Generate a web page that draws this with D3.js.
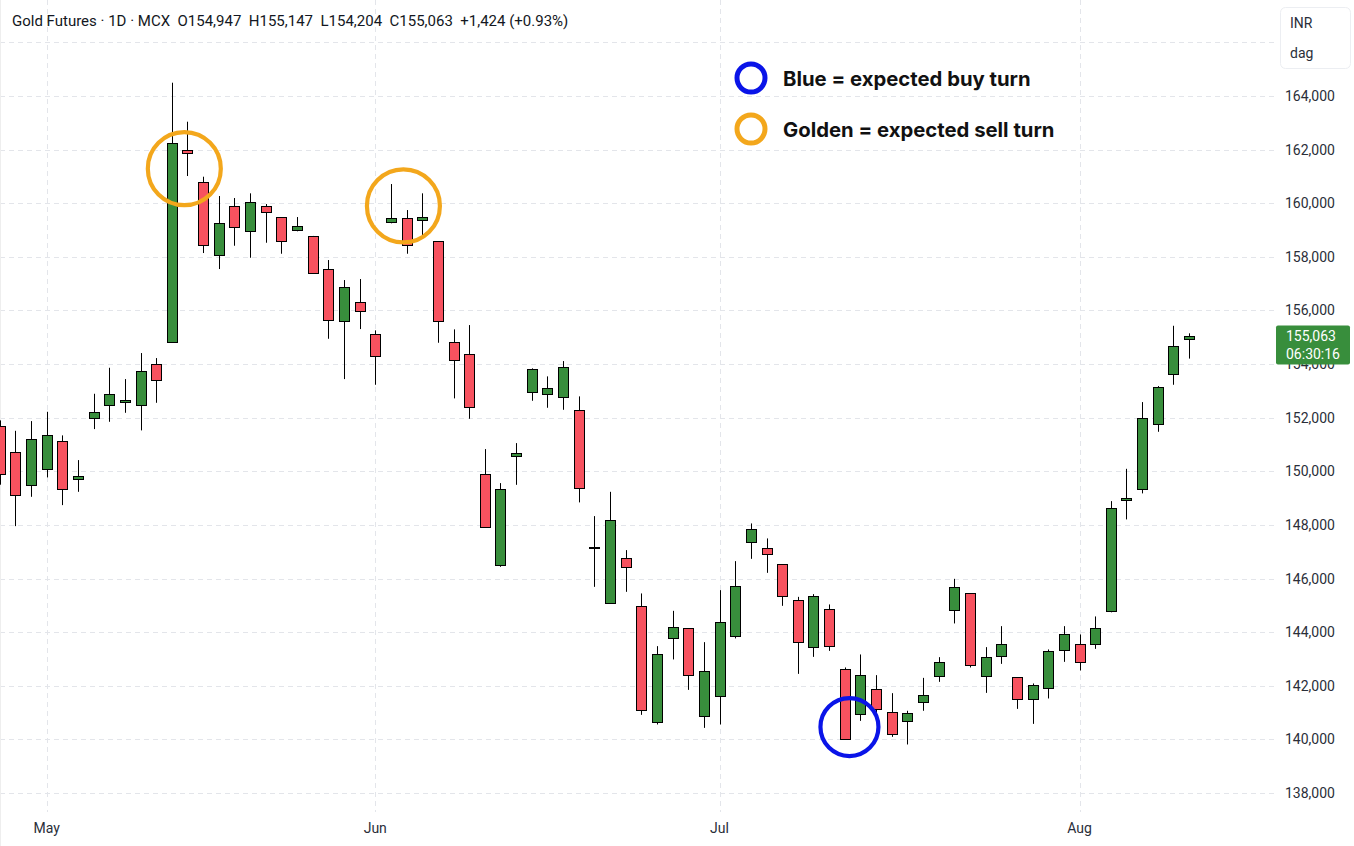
<!DOCTYPE html>
<html>
<head>
<meta charset="utf-8">
<script src="https://cdn.jsdelivr.net/npm/d3@7"></script>
<style>
body { margin: 0; background: #fff; }
svg { display: block; font-family: Roboto, "Liberation Sans", sans-serif; }
</style>
</head>
<body>
<script>
var w = 1354, h = 846;

// daily OHLC (index 0 = partly hidden candle on the left edge)
var opens  = [151700,150705,149474,150071,151116,149720,151974,152459,152571,152459,
              153989,154810,161974,160780,158056,159884,158952,159884,159474,158989,
              158765,157534,155593,156302,155108,159287,159437,159362,158578,154810,
              154362,149884,146474,150556,152944,152869,152758,152273,147183,145071,
              146750,144970,140631,143765,144138,140855,141601,143840,147347,147123,
              146526,145183,143429,144847,142608,140929,141862,141004,140668,141377,
              142332,144810,145444,142332,143093,142310,141489,141899,143317,143541,
              143541,144758,148914,149325,151750,153616,154947];
var highs  = [151900,151511,151873,152220,151340,150418,152892,153862,153440,154411,
              154224,164496,163041,160989,160269,160194,160369,159970,159480,159485,
              158780,157881,157134,157172,155258,160716,159746,160369,158590,155295,
              155455,150829,149560,151052,153840,153541,154112,152795,148329,149235,
              147060,145444,143478,144795,144150,143627,145567,146649,148056,147496,
              146540,145317,145418,145034,142683,143168,142396,141724,141067,142295,
              143067,145989,145460,143441,144224,142320,142086,143355,144224,143914,
              144586,148888,150093,152582,153179,155429,155147];
var lows   = [149500,147955,149049,149772,148739,149235,151575,151847,152183,151526,
              152556,154800,161015,158142,157545,158414,157966,158526,158116,158952,
              157370,154944,153440,155306,153228,159250,158116,158813,154795,152720,
              151959,147900,146437,149496,152631,152370,152295,148840,145690,145060,
              145504,140915,140556,142982,141847,140429,140556,143766,146735,146213,
              144982,142444,143078,143302,139990,140691,140866,140094,139810,141067,
              142146,144325,142683,141735,142817,141138,140579,141526,142892,142571,
              143377,144740,148205,149176,151474,153228,154204];
var closes = [149896,149101,151190,151340,149325,149821,152198,152881,152646,153728,
              153392,162235,161873,158429,159250,159101,160034,159660,158578,159138,
              157384,155631,156862,155967,154287,159437,158429,159474,155593,154138,
              152384,147907,149325,150668,153802,153093,153877,149362,147183,148168,
              146414,141090,143179,144176,142384,142534,144362,145705,147832,146899,
              145332,143616,145332,143467,139996,142384,141116,140194,140967,141638,
              142870,145668,142758,143056,143541,141489,142012,143280,143914,142870,
              144138,148616,148989,151985,153131,154661,155063];

var monthIdx    = [3, 24, 46, 69];
var monthLabels = ["May", "Jun", "Jul", "Aug"];
var gridTicks   = d3.range(138000, 166001, 2000);
var priceTicks  = d3.range(138000, 164001, 2000);

// turning points marked on the chart
var turnIdx   = [11.8, 25.8, 54.3];
var turnPrice = [161290, 159900, 140460];
var turnKind  = ["sell", "sell", "buy"];

var legendKinds  = ["buy", "sell"];
var legendLabels = ["Blue = expected buy turn", "Golden = expected sell turn"];

var headerText = "Gold Futures \u00b7 1D \u00b7 MCX  O154,947  H155,147  L154,204  C155,063  +1,424 (+0.93%)";
var lastTime = "06:30:16";

var green = "#388e3c", red = "#f7525f";
var turnColor = { buy: "#0a14e8", sell: "#f3a71c" };

var paneW = 1275, paneH = 812;

var svg = d3.select("body").append("svg")
  .attr("width", w)
  .attr("height", h)

var x = d3.scaleLinear().domain([0, 76]).range([-0.35, 1189.05]);
var y = d3.scaleLinear().domain([138000, 164000]).range([793, 96]);

svg.append("clipPath").attr("id", "pane")
  .append("rect").attr("x", 0).attr("y", 0).attr("width", paneW).attr("height", paneH)

// grid
var grid = svg.append("g").attr("clip-path", "url(#pane)")
grid.selectAll("line.h")
  .data(gridTicks)
  .enter().append("line")
  .attr("class", "h")
  .attr("x1", 0).attr("x2", paneW)
  .attr("y1", function(d) { return Math.round(y(d)) + 0.5; })
  .attr("y2", function(d) { return Math.round(y(d)) + 0.5; })
  .style("stroke", "#e3e5ea")
  .style("stroke-dasharray", "5,4")
grid.selectAll("line.v")
  .data(monthIdx)
  .enter().append("line")
  .attr("class", "v")
  .attr("x1", function(d) { return Math.round(x(d)) + 0.5; })
  .attr("x2", function(d) { return Math.round(x(d)) + 0.5; })
  .attr("y1", 0).attr("y2", paneH)
  .style("stroke", "#e3e5ea")
  .style("stroke-dasharray", "5,4")

svg.append("line")
  .attr("x1", 0.5).attr("x2", 0.5).attr("y1", 0).attr("y2", h)
  .style("stroke", "#eeeeee")

// candles
var candles = svg.append("g").attr("clip-path", "url(#pane)")
  .selectAll("g")
  .data(closes.map(function(c, i) { return { i: i, o: opens[i], hi: highs[i], lo: lows[i], c: c }; }))
  .enter().append("g")

candles.append("line")
  .attr("x1", function(d) { return Math.round(x(d.i)) + 0.5; })
  .attr("x2", function(d) { return Math.round(x(d.i)) + 0.5; })
  .attr("y1", function(d) { return y(d.hi); })
  .attr("y2", function(d) { return y(d.lo); })
  .style("stroke", "#000")
  .style("stroke-width", 1)

candles.append("rect")
  .attr("x", function(d) { return Math.round(x(d.i)) - 4.5; })
  .attr("width", 10)
  .attr("y", function(d) { return Math.round(y(Math.max(d.o, d.c))) + 0.5; })
  .attr("height", function(d) { return Math.max(1, Math.round(Math.abs(y(d.o) - y(d.c)))); })
  .style("fill", function(d) { return d.c >= d.o ? green : red; })
  .style("stroke", "#000")
  .style("stroke-width", 1)

// turn markers
svg.append("g").selectAll("circle")
  .data(turnIdx)
  .enter().append("circle")
  .attr("cx", function(d) { return x(d); })
  .attr("cy", function(d, i) { return y(turnPrice[i]); })
  .attr("r", function(d, i) { return turnKind[i] == "buy" ? 29 : 36.5; })
  .style("fill", "none")
  .style("stroke", function(d, i) { return turnColor[turnKind[i]]; })
  .style("stroke-width", 4.2)

// legend
var legend = svg.append("g").attr("transform", "translate(751,78)")
var items = legend.selectAll("g")
  .data(legendLabels)
  .enter().append("g")
  .attr("transform", function(d, i) { return "translate(0," + (i * 51) + ")"; })
items.append("circle")
  .attr("r", 14)
  .style("fill", "none")
  .style("stroke", function(d, i) { return turnColor[legendKinds[i]]; })
  .style("stroke-width", 5)
items.append("text")
  .attr("x", 32)
  .attr("y", 7.5)
  .text(function(d) { return d; })
  .style("font-family", "Inter, sans-serif")
  .style("font-weight", 700)
  .style("font-size", "20.3px")
  .style("fill", "#111")

// price scale
svg.append("g").selectAll("text")
  .data(priceTicks)
  .enter().append("text")
  .attr("x", 1285)
  .attr("y", function(d) { return y(d) + 5; })
  .text(function(d) { return d3.format(",")(d); })
  .style("font-size", "14px")
  .style("fill", "#2a2e39")

// time scale
svg.append("g").selectAll("text")
  .data(monthIdx)
  .enter().append("text")
  .attr("x", function(d) { return x(d); })
  .attr("y", 833)
  .attr("text-anchor", "middle")
  .text(function(d, i) { return monthLabels[i]; })
  .style("font-size", "14px")
  .style("fill", "#2a2e39")

// last price label
var last = closes.length - 1;
var lp = svg.append("g").attr("transform", "translate(1276," + (y(closes[last]) - 10) + ")")
lp.append("rect")
  .attr("width", 74).attr("height", 39).attr("rx", 2)
  .style("fill", green)
lp.append("text").attr("x", 10).attr("y", 15).text(d3.format(",")(closes[last]))
  .style("font-size", "14px").style("fill", "#fff")
lp.append("text").attr("x", 10).attr("y", 33).text(lastTime)
  .style("font-size", "14px").style("fill", "#fff")

// currency / unit box
var unit = svg.append("g").attr("transform", "translate(1280,7)")
unit.append("rect")
  .attr("x", 0.5).attr("y", 0.5).attr("width", 70).attr("height", 61).attr("rx", 5)
  .style("fill", "#fff")
  .style("stroke", "#eceef2")
unit.append("text").attr("x", 10).attr("y", 21).text("INR")
  .style("font-size", "14px").style("fill", "#2a2e39")
unit.append("text").attr("x", 10).attr("y", 51).text("dag")
  .style("font-size", "14px").style("fill", "#2a2e39")

// header
svg.append("text")
  .attr("x", 12)
  .attr("y", 26)
  .attr("xml:space", "preserve")
  .text(headerText)
  .style("white-space", "pre")
  .style("font-size", "15px")
  .style("fill", "#131722")
</script>
</body>
</html>
